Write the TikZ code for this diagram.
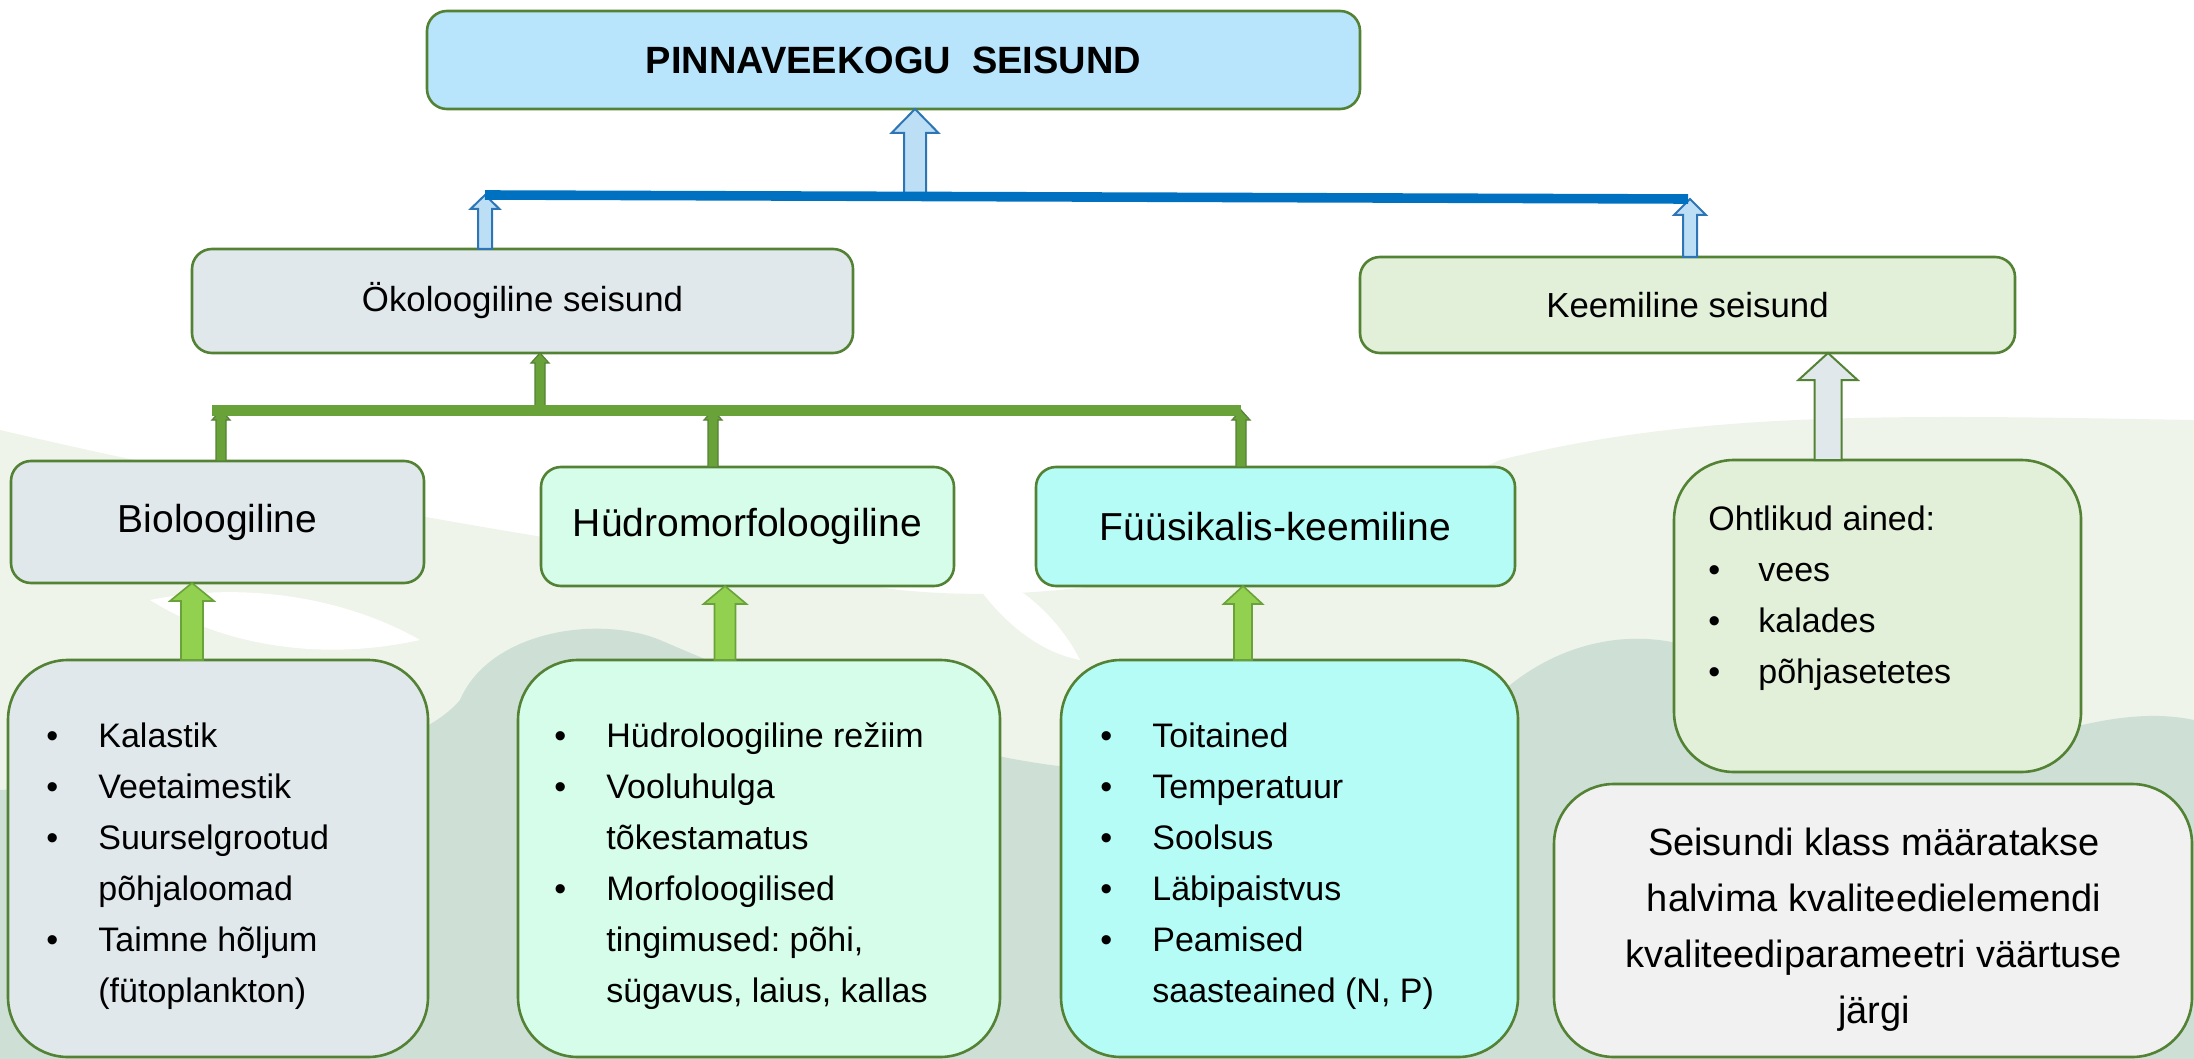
\documentclass[tikz,border=0pt]{standalone}
\usepackage{fontspec}
\setmainfont{Liberation Sans}
\usetikzlibrary{calc}
\frenchspacing
\definecolor{bord}{HTML}{548235}
\definecolor{titlefill}{HTML}{B8E4FC}
\definecolor{bluebar}{HTML}{0070C0}
\definecolor{bluearrfill}{HTML}{BDDFF6}
\definecolor{bluearrdraw}{HTML}{2E75B6}
\definecolor{greyfill}{HTML}{E0E8EC}
\definecolor{chemfill}{HTML}{E2EFD9}
\definecolor{hydfill}{HTML}{D6FCEA}
\definecolor{fyyfill}{HTML}{B6FCF6}
\definecolor{seifill}{HTML}{F1F1F1}
\definecolor{greenbar}{HTML}{6AA23A}
\definecolor{lightgreen}{HTML}{92D050}
\definecolor{bglight}{HTML}{EEF4EA}
\definecolor{bgdark}{HTML}{CEDFD6}
\newcommand\blockup[7]{%
  \path[#1] let \p1=(#3), \p2=(#4), \p3=(#2,0) in
  (\x3-#5,\y1) -- (\x3-#5,\y2-#7) -- (\x3-#6,\y2-#7) -- (\x3,\y2) --
  (\x3+#6,\y2-#7) -- (\x3+#5,\y2-#7) -- (\x3+#5,\y1) -- cycle;}
\newcommand\bi[1]{\makebox[26pt][l]{\textbullet}#1}
\newcommand\ci[1]{\hspace*{26pt}#1}
\tikzset{
  box/.style={draw=bord, line width=1.3pt, rounded corners=10pt, outer sep=0pt, inner sep=0pt, align=center},
  bigbox/.style={box, rounded corners=30pt},
  midlabel/.style={font=\fontsize{19.5}{23}\selectfont},
  toplabel/.style={font=\fontsize{17.4}{21}\selectfont},
  listtext/.style={anchor=base west, align=left, inner sep=0pt, font=\fontsize{17}{25.5}\selectfont},
  bluearr/.style={fill=bluearrfill, draw=bluearrdraw, line width=1pt},
  smallgreen/.style={fill=greenbar, draw=bord, line width=0.6pt},
  biggreen/.style={fill=lightgreen, draw=greenbar, line width=0.8pt},
  greyarr/.style={fill=greyfill, draw=bord, line width=1pt}
}
\begin{document}
\begin{tikzpicture}[x=0.5pt,y=-0.5pt]
\useasboundingbox (0,0) rectangle (2194,1059);
% background landscape
\fill[bglight] (0,430) .. controls (300,500) and (600,550) .. (900,590)
  .. controls (1100,610) and (1300,550) .. (1500,460)
  .. controls (1700,410) and (1900,415) .. (2194,420) -- (2194,1059) -- (0,1059) -- cycle;
\fill[white] (150,600) .. controls (250,580) and (350,600) .. (420,640)
  .. controls (330,660) and (230,650) .. (150,600) -- cycle;
\fill[white] (960,560) .. controls (1020,580) and (1060,620) .. (1080,660)
  .. controls (1030,650) and (990,610) .. (960,560) -- cycle;
\fill[bgdark] (0,790) .. controls (200,780) and (400,770) .. (460,700)
  .. controls (490,630) and (600,615) .. (660,640)
  .. controls (800,700) and (950,760) .. (1100,770)
  .. controls (1300,780) and (1400,775) .. (1460,740)
  .. controls (1520,650) and (1620,620) .. (1700,650)
  .. controls (1800,690) and (1850,760) .. (1920,760)
  .. controls (2000,760) and (2100,700) .. (2194,720)
  -- (2194,1059) -- (0,1059) -- cycle;
% boxes
\node[box, fill=titlefill, minimum width=466.5pt, minimum height=49pt,
  font=\bfseries\fontsize{19}{23}\selectfont] (title) at (893.5,60) {PINNAVEEKOGU\ \ SEISUND};
\node[box, fill=greyfill, minimum width=330.5pt, minimum height=52pt, toplabel] (oko) at (522.5,301) {Ökoloogiline seisund};
\node[box, fill=chemfill, minimum width=327.5pt, minimum height=48pt, toplabel] (kee) at (1687.5,305) {Keemiline seisund};
\node[box, fill=greyfill, minimum width=206.5pt, minimum height=61pt, midlabel] (bio) at (217.5,522) {Bioloogiline};
\node[box, fill=hydfill, minimum width=206.5pt, minimum height=59.5pt, midlabel] (hyd) at (747.5,526.5) {Hüdromorfoloogiline};
\node[box, fill=fyyfill, minimum width=239.5pt, minimum height=59.5pt, midlabel] (fyy) at (1275.5,526.5) {Füüsikalis-keemiline};
\node[bigbox, fill=greyfill, minimum width=210pt, minimum height=198.5pt] (b1) at (218,858.5) {};
\node[bigbox, fill=hydfill, minimum width=241pt, minimum height=198.5pt] (b2) at (759,858.5) {};
\node[bigbox, fill=fyyfill, minimum width=228.5pt, minimum height=198.5pt] (b3) at (1289.5,858.5) {};
\node[bigbox, fill=chemfill, minimum width=203.5pt, minimum height=156pt] (oht) at (1877.5,616) {};
\node[bigbox, fill=seifill, minimum width=319pt, minimum height=136.5pt] (sei) at (1873,920.5) {};
% texts (anchor = baseline of the last line)
\node[listtext] (t1) at (46,1002) {\bi{Kalastik}\\\bi{Veetaimestik}\\\bi{Suurselgrootud}\\\ci{põhjaloomad}\\\bi{Taimne hõljum}\\\ci{(fütoplankton)}};
\node[listtext] (t2) at (554,1002) {\bi{Hüdroloogiline režiim}\\\bi{Vooluhulga}\\\ci{tõkestamatus}\\\bi{Morfoloogilised}\\\ci{tingimused: põhi,}\\\ci{sügavus, laius, kallas}};
\node[listtext] (t3) at (1100,1002) {\bi{Toitained}\\\bi{Temperatuur}\\\bi{Soolsus}\\\bi{Läbipaistvus}\\\bi{Peamised}\\\ci{saasteained (N, P)}};
\node[listtext] (t4) at (1708,683) {Ohtlikud ained:\\\makebox[25pt][l]{\textbullet}vees\\\makebox[25pt][l]{\textbullet}kalades\\\makebox[25pt][l]{\textbullet}põhjasetetes};
\node[anchor=base, align=center, inner sep=0pt, font=\fontsize{19}{28}\selectfont] (t5) at (1874,1023)
  {Seisundi klass määratakse\\halvima kvaliteedielemendi\\kvaliteediparameetri väärtuse\\järgi};
% bars
\coordinate (bl) at (485,195);
\coordinate (br) at (1688,199);
\coordinate (gl) at (212,410);
\coordinate (gr) at (1241,410);
% blue arrows
\blockup{bluearr}{915}{bl}{title.south}{5.5pt}{11.75pt}{12pt}
\blockup{bluearr}{485}{oko.north}{bl}{3.5pt}{7.25pt}{7pt}
\blockup{bluearr}{1690}{kee.north}{br}{3.5pt}{8pt}{8pt}
\draw[bluebar, line width=4.8pt] (bl) -- (br);
% green arrows
\blockup{smallgreen}{540}{gl}{oko.south}{2.5pt}{4.5pt}{5pt}
\blockup{smallgreen}{221}{bio.north}{gl}{2.5pt}{4.5pt}{5pt}
\blockup{smallgreen}{713}{hyd.north}{gl}{2.5pt}{4.5pt}{5pt}
\blockup{smallgreen}{1241}{fyy.north}{gl}{2.5pt}{4.5pt}{5pt}
\draw[greenbar, line width=5.5pt] (gl) -- (gr);
\blockup{biggreen}{192}{b1.north}{bio.south}{5.5pt}{11pt}{9pt}
\blockup{biggreen}{725}{b2.north}{hyd.south}{5.25pt}{10.75pt}{9pt}
\blockup{biggreen}{1243}{b3.north}{fyy.south}{4.5pt}{9.75pt}{9pt}
\blockup{greyarr}{1828}{oht.north}{kee.south}{6.75pt}{14.75pt}{13.5pt}
\end{tikzpicture}
\end{document}
